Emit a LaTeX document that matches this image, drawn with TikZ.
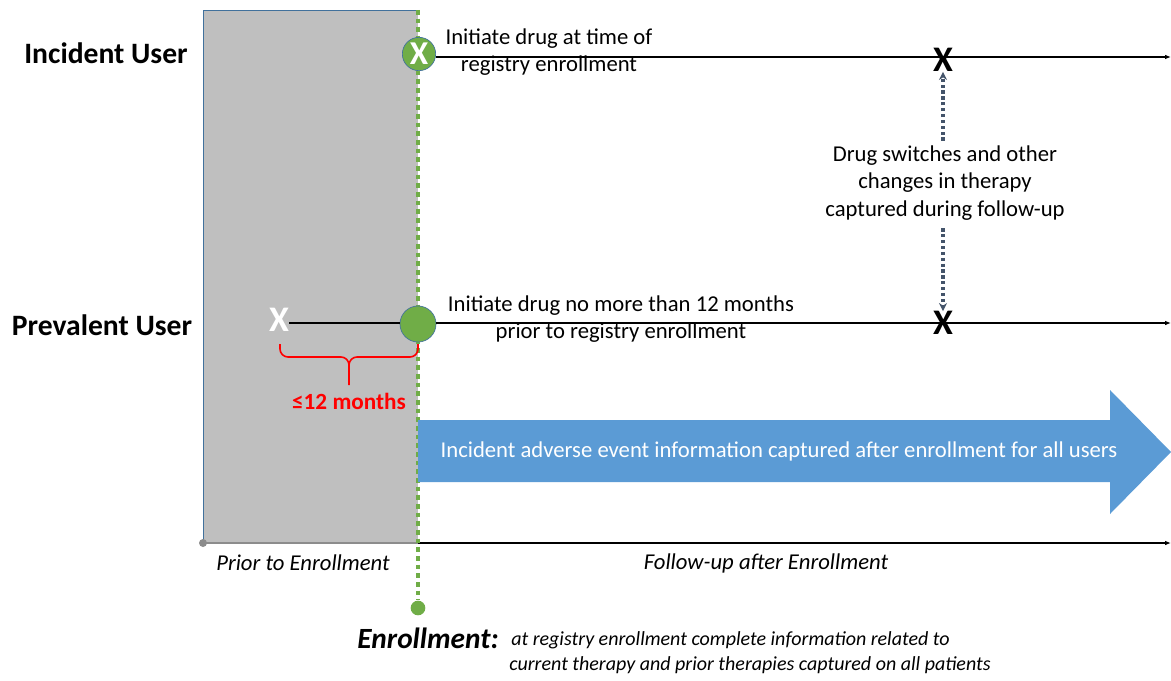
\documentclass[tikz,border=0pt]{standalone}
\usepackage{fontspec}
\setmainfont{Carlito}
\usepackage{tikz}
\usetikzlibrary{arrows.meta, positioning, calc, decorations.pathreplacing}
\definecolor{LeafGreen}{HTML}{70AD47}
\definecolor{RimBlue}{HTML}{41719C}
\definecolor{BandBlue}{HTML}{5B9BD5}
\definecolor{PanelGray}{HTML}{BFBFBF}
\definecolor{SlateDot}{HTML}{44546A}
\definecolor{AxisGray}{HTML}{8C8C8C}

\begin{document}
\begin{tikzpicture}[
    x=0.75pt, y=-0.75pt,
    usertag/.style={font=\fontsize{22.2}{24}\selectfont\bfseries, anchor=center},
    note/.style={align=center, font=\fontsize{17}{20.5}\selectfont, inner sep=0pt},
    axisnote/.style={font=\fontsize{17}{20}\selectfont\itshape, inner sep=0pt},
    timeline/.style={line width=0.9pt, -{Latex[length=4.5pt,width=3.5pt]}},
    mark x/.style={font=\fontsize{27}{27}\selectfont\bfseries, inner sep=0pt},
    startdot/.style={circle, fill=LeafGreen, draw=RimBlue, line width=0.5pt, inner sep=0pt},
    hint/.style={draw=SlateDot, line width=2.4pt, dash pattern=on 2.4pt off 2pt, -{Stealth[length=6pt,width=6pt]}}
]
    \useasboundingbox (0,0) rectangle (1171,681);

    % prior-to-enrollment panel
    \fill[PanelGray] (203,10) rectangle (418,543);
    \draw[RimBlue, line width=0.5pt] (418,10) -- (203,10) -- (203,543) -- (418,543);

    % time axis
    \coordinate (axL) at (203,543);
    \coordinate (axM) at (418,543);
    \coordinate (axR) at (1171,543);
    \draw[AxisGray, line width=1.5pt] (axL) -- (axM);
    \fill[AxisGray] (axL) circle (3pt);
    \draw[timeline] (axM) -- (axR);
    \node[axisnote] (prior) at (303,563) {Prior to Enrollment};
    \node[axisnote] (follow) at (766,563) {Follow-up after Enrollment};

    % enrollment line
    \coordinate (enTop) at (418,10);
    \node[circle, fill=LeafGreen, inner sep=0pt, minimum size=11pt] (enDot) at (418,608) {};
    \draw[LeafGreen, line width=3pt, dash pattern=on 3.5pt off 3pt] (enTop) -- (enDot.north);

    % incident user
    \node[usertag] (inc) at (106,53) {Incident User};
    \coordinate (incEnd) at (1171,57);
    \node[startdot, minimum size=25pt, text=white, font=\fontsize{25}{25}\selectfont\bfseries] (incStart) at (419,54) {X};
    \draw[timeline] (incStart.east |- incEnd) -- (incEnd);
    \node[note] (incText) at (549,52) {Initiate drug at time of\\registry enrollment};
    \node[mark x] (incSwitch) at (943,60) {X};

    % prevalent user
    \node[usertag] (prev) at (102,325) {Prevalent User};
    \node[mark x, text=white] (prevX) at (279,320) {X};
    \node[startdot, minimum size=27pt] (prevStart) at (418,324) {};
    \coordinate (prevEnd) at (1171,323);
    \draw[line width=0.9pt] (prevX.east |- prevEnd) -- (prevStart.west |- prevEnd);
    \draw[timeline] (prevStart.east |- prevEnd) -- (prevEnd);
    \node[note] (prevText) at (621,319) {Initiate drug no more than 12 months\\prior to registry enrollment};
    \node[mark x] (prevSwitch) at (943,323) {X};

    % window brace
    \draw[red, line width=1.2pt, rounded corners=6pt]
        (280,344) |- (349,357) -- (349,385);
    \draw[red, line width=1.2pt, rounded corners=6pt]
        (349,370) |- (418,357) -- (418,344);
    \node[text=red, font=\fontsize{17.4}{19}\selectfont\bfseries] (window) at (349,401) {≤12 months};

    % switches
    \node[note] (swText) at (945,183) {Drug switches and other\\changes in therapy\\captured during follow-up};
    \draw[hint] (swText.north -| incSwitch) ++(0,-5) -- (incSwitch.south);
    \draw[hint] (swText.south -| prevSwitch) ++(0,8) -- (prevSwitch.north);

    % adverse event band
    \fill[BandBlue] (418,420) -- (1110,420) -- (1110,390) -- (1171,452)
        -- (1110,514) -- (1110,482) -- (418,482) -- cycle;
    \node[text=white, font=\fontsize{17}{20}\selectfont] (band) at (779,451)
        {Incident adverse event information captured after enrollment for all users};

    % enrollment note
    \node[font=\fontsize{22}{24}\selectfont\bfseries\itshape, anchor=west, inner sep=0pt] (enr) at (357,638) {Enrollment:};
    \node[font=\fontsize{15}{18}\selectfont\itshape, anchor=west, inner sep=0pt] (enr1) at (511,640) {at registry enrollment complete information related to};
    \node[font=\fontsize{15}{18}\selectfont\itshape, anchor=west, inner sep=0pt] (enr2) at (509,665) {current therapy and prior therapies captured on all patients};
\end{tikzpicture}
\end{document}
